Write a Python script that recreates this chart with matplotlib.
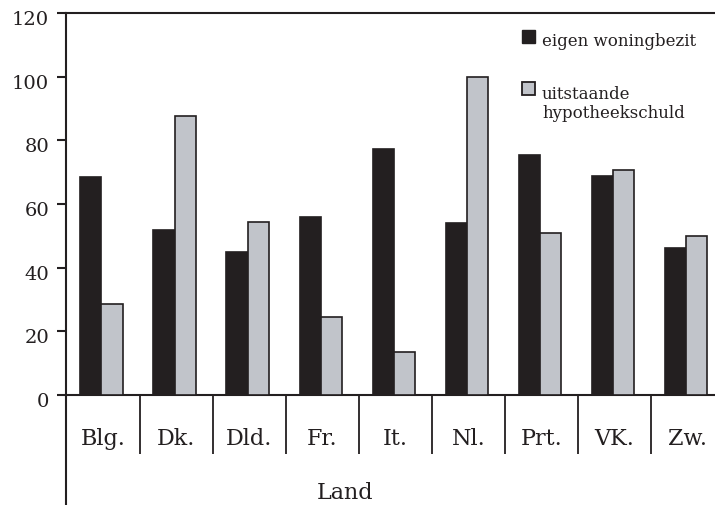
import matplotlib
matplotlib.use("Agg")
import matplotlib.pyplot as plt
import matplotlib.transforms as mtransforms
from matplotlib.patches import Rectangle
import numpy as np

# ---- data ----
landen = ["Blg.", "Dk.", "Dld.", "Fr.", "It.", "Nl.", "Prt.", "VK.", "Zw."]
eigen_woningbezit = [68.4, 51.9, 45.0, 56.0, 77.2, 53.9, 75.3, 68.9, 46.2]
hypotheekschuld = [28.6, 87.5, 54.5, 24.6, 13.4, 100.0, 50.8, 70.7, 50.0]
y_ticks = [0, 20, 40, 60, 80, 100, 120]
legend_labels = ["eigen woningbezit", "uitstaande\nhypotheekschuld"]
x_title = "Land"

BLACK = "#231f20"
GREY = "#c1c4ca"

plt.rcParams["font.family"] = ["DejaVu Serif"]
plt.rcParams["text.color"] = BLACK

W, H = 715, 506
fig = plt.figure(figsize=(W / 100, H / 100), dpi=100)
ax = fig.add_axes([66.4 / W, 110 / H, 657.9 / W, 382 / H])

x = np.arange(len(landen))
bw = 0.29
ax.bar(x + 0.335, eigen_woningbezit, bw, color=BLACK, edgecolor=BLACK, linewidth=1.2, zorder=3)
ax.bar(x + 0.625, hypotheekschuld, bw, color=GREY, edgecolor=BLACK, linewidth=1.2, zorder=3)

ax.set_xlim(0, len(landen))
ax.set_ylim(0, 120)

for s in ["left", "top", "bottom"]:
    ax.spines[s].set_linewidth(1.5)
    ax.spines[s].set_color(BLACK)
ax.spines["right"].set_visible(False)

# category separators below the axis and extended left axis line
ax.vlines(np.arange(1, len(landen)), -18.5, 0, colors=BLACK, linewidth=1.3, clip_on=False)
ax.vlines([0], -40, 0, colors=BLACK, linewidth=1.5, clip_on=False)

ax.set_xticks(x + 0.5)
ax.set_xticklabels(landen)
ax.tick_params(axis="x", length=0, pad=23, labelsize=16, labelcolor=BLACK)

ax.set_yticks(y_ticks)
ax.set_yticklabels([str(v) for v in y_ticks])
ax.tick_params(axis="y", direction="out", length=6.5, width=1.5, pad=6,
               labelsize=14, labelcolor=BLACK, color=BLACK)
off = mtransforms.ScaledTranslation(0, -4 / 100, fig.dpi_scale_trans)
for lab in ax.get_yticklabels():
    lab.set_transform(lab.get_transform() + off)

fig.text(345 / W, 1 - 499 / H, x_title, ha="center", va="baseline", fontsize=16)

# legend (manual)
fig.add_artist(Rectangle((522 / W, 1 - 44 / H), 13 / W, 13 / H, transform=fig.transFigure,
                         facecolor=BLACK, edgecolor=BLACK, linewidth=1.0))
fig.text(542 / W, 1 - 46.5 / H, legend_labels[0], ha="left", va="baseline", fontsize=12)
fig.add_artist(Rectangle((522 / W, 1 - 96 / H), 13 / W, 13 / H, transform=fig.transFigure,
                         facecolor=GREY, edgecolor=BLACK, linewidth=1.3))
fig.text(542 / W, 1 - 99 / H, legend_labels[1].split("\n")[0], ha="left", va="baseline", fontsize=12)
fig.text(542 / W, 1 - 118.5 / H, legend_labels[1].split("\n")[1], ha="left", va="baseline", fontsize=12)

fig.savefig("out.png", dpi=100)
